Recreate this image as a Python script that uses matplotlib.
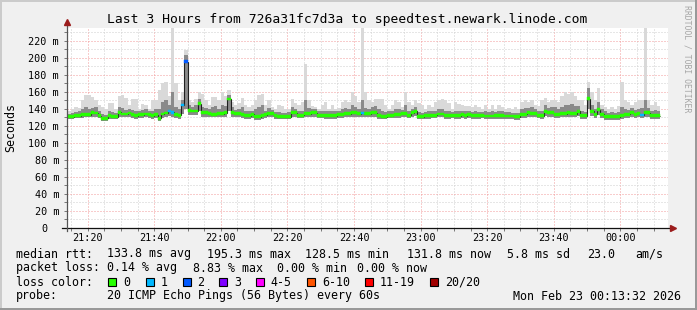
import numpy as np
import matplotlib
matplotlib.use("Agg")
import matplotlib.pyplot as plt
from matplotlib.ticker import MultipleLocator, FuncFormatter
from matplotlib.patches import Rectangle
from matplotlib.transforms import ScaledTranslation

# ----------------------------------------------------------------------------
# Data: one sample per minute, first one at 21:14 (minutes after midnight)
# ----------------------------------------------------------------------------

START_MIN = 21 * 60 + 14

MEDIAN = [
    131, 131, 132, 132, 133, 133, 133, 135.5, 135, 132,
    128.5, 129, 132, 131, 131, 136, 134, 134, 135, 133,
    132, 133, 133, 134, 133, 132, 133, 129, 134, 135,
    137.5, 136, 133, 132.5, 144.5, 195.3, 138, 137.5, 137.5, 146,
    135.5, 135.5, 134.5, 133.5, 133.5, 134.5, 134.5, 135.5, 151.5, 135.5,
    134.5, 134.5, 133.5, 132, 132, 133.5, 130.8, 131, 132.5, 133,
    134.5, 134.5, 132, 131, 131, 131, 131, 135.5, 135.5, 132.5,
    132.5, 134.5, 134.5, 135.5, 135.5, 132.5, 132.5, 132, 132, 132,
    132, 133.5, 133.5, 134.5, 134.5, 135.5, 135.5, 134.5, 135, 134.5,
    134.5, 135.5, 135.5, 132, 131, 131, 132.5, 132.5, 133.5, 133.5,
    134.5, 134.5, 132.5, 135.5, 137, 131, 131, 132, 132, 132.5,
    132.5, 134, 134, 132, 132, 132.5, 132, 132, 133.5, 132,
    133, 132, 132, 132, 132.5, 131.5, 131.5, 131.5, 132, 132,
    132, 131.5, 131.5, 131.5, 131, 131, 133.5, 133.5, 135.5, 134.5,
    134.5, 132.5, 132, 137, 135.5, 135.5, 133.5, 133.5, 134.5, 134.5,
    135.5, 134.5, 134.5, 137, 132, 132, 152, 137, 133.5, 139,
    133.5, 131, 131, 131, 131, 131, 132.5, 133.5, 133.5, 135.5,
    133.5, 134.5, 132.8, 135.5, 135.5, 132, 132, 131.8,
]

# smoke: slowest ping of the minute
SMOKE_HI = [
    138, 140, 142, 141, 150, 156, 156, 154, 150, 145,
    142, 140, 147, 147, 140, 155, 156, 153, 145, 151,
    151, 140, 146, 145, 140, 150, 150, 162, 170, 172,
    155, 235, 170, 150, 160, 209, 150, 148, 152, 160,
    158, 150, 145, 154, 154, 150, 160, 155, 162, 148,
    145, 147, 153, 145, 142, 145, 150, 156, 158, 145,
    150, 142, 140, 145, 143, 140, 140, 152, 147, 145,
    148, 193, 150, 143, 142, 140, 145, 148, 140, 145,
    140, 141, 148, 150, 148, 160, 155, 148, 235, 160,
    150, 148, 152, 152, 152, 145, 140, 145, 150, 148,
    142, 160, 148, 145, 150, 147, 145, 140, 145, 142,
    148, 150, 152, 150, 147, 140, 148, 146, 144, 143,
    143, 142, 145, 142, 140, 144, 140, 145, 140, 145,
    142, 140, 141, 140, 142, 140, 148, 150, 148, 150,
    145, 143, 150, 153, 148, 150, 150, 148, 155, 160,
    158, 160, 155, 150, 150, 145, 172, 160, 150, 164,
    145, 142, 140, 142, 140, 143, 172, 150, 148, 145,
    148, 150, 150, 235, 150, 145, 148, 143,
]

# smoke: upper edge of the dense part
SMOKE_Q3 = [
    134, 135, 136, 137, 140, 142, 140, 141, 142, 138,
    134, 133, 137, 136, 135, 142, 141, 139, 140, 139,
    137, 137, 139, 140, 138, 138, 140, 140, 148, 150,
    145, 160, 142, 140, 150, 203, 145, 142, 145, 152,
    142, 141, 140, 142, 143, 140, 145, 143, 156, 142,
    139, 140, 142, 138, 137, 138, 140, 142, 145, 138,
    141, 139, 136, 136, 135, 135, 136, 142, 140, 138,
    138, 150, 141, 140, 140, 137, 138, 138, 137, 137,
    137, 138, 140, 141, 140, 145, 142, 140, 150, 141,
    140, 142, 143, 140, 137, 136, 137, 138, 140, 140,
    139, 145, 138, 140, 142, 136, 135, 136, 137, 137,
    138, 140, 140, 138, 137, 136, 138, 137, 137, 137,
    137, 136, 137, 136, 136, 137, 136, 137, 136, 138,
    137, 136, 136, 135, 135, 135, 140, 141, 141, 142,
    140, 137, 138, 144, 141, 142, 142, 140, 142, 145,
    145, 146, 143, 143, 137, 136, 165, 145, 140, 148,
    140, 137, 135, 136, 135, 136, 142, 140, 139, 141,
    139, 140, 141, 150, 141, 137, 139, 138,
]

# smoke: fastest ping of the minute
SMOKE_LO = [
    128, 128, 129, 129, 129, 130, 130, 131, 131, 129,
    126, 126, 128, 128, 128, 131, 130, 130, 131, 129,
    128, 129, 129, 130, 129, 128, 129, 126, 129, 130,
    132, 131, 129, 128, 134, 140, 133, 133, 133, 137,
    131, 131, 130, 130, 130, 130, 130, 131, 138, 131,
    130, 130, 129, 128, 128, 129, 127, 127, 128, 129,
    130, 130, 128, 128, 128, 128, 128, 131, 131, 129,
    129, 130, 130, 131, 131, 129, 129, 128, 128, 128,
    128, 129, 129, 130, 130, 131, 131, 130, 130, 130,
    130, 131, 131, 128, 128, 128, 129, 129, 129, 129,
    130, 130, 129, 131, 132, 128, 128, 128, 128, 129,
    129, 130, 130, 128, 128, 129, 128, 128, 129, 128,
    129, 128, 128, 128, 129, 128, 128, 128, 128, 128,
    128, 128, 128, 128, 127, 127, 129, 129, 131, 130,
    130, 129, 128, 132, 131, 131, 129, 129, 130, 130,
    131, 130, 130, 132, 128, 128, 140, 132, 129, 133,
    129, 127, 127, 127, 127, 127, 128, 129, 129, 131,
    129, 130, 129, 131, 131, 128, 128, 128,
]

# minutes with lost pings (index into the series) and how many were lost
LOSS_AT = [30, 31, 34, 35, 88, 172]
LOSS_N = [1, 1, 1, 2, 1, 1]

LOSS_LABELS = ["0", "1", "2", "3", "4-5", "6-10", "11-19", "20/20"]
LOSS_UPPER = [0, 1, 2, 3, 5, 10, 19, 20]
LOSS_COLORS = ["#26ff00", "#00b8ff", "#0059ff", "#7e00ff",
               "#ff00ff", "#ff5500", "#ff0000", "#a10000"]

TITLE = "Last 3 Hours from 726a31fc7d3a to speedtest.newark.linode.com"
RTT_ROW = ["median rtt:", "133.8 ms avg", "195.3 ms max", "128.5 ms min",
           "131.8 ms now", "5.8 ms sd", "23.0", "am/s"]
LOSS_ROW = ["packet loss:", "0.14 % avg", "8.83 % max", "0.00 % min",
            "0.00 % now"]
PROBE_ROW = ["probe:", "20 ICMP Echo Pings (56 Bytes) every 60s",
             "Mon Feb 23 00:13:32 2026"]

# ----------------------------------------------------------------------------
# Layout (pixels of the 697x310 image)
# ----------------------------------------------------------------------------

W, H = 697, 310
MONO = "DejaVu Sans Mono"
BACK = "#f0f0f0"
ARROW = "#9b1c1c"
RTT_X = [16, 107, 207, 305, 407, 507, 587, 635]
LOSS_X = [16, 107, 193, 277, 357]
PROBE_X = [16, 107, 513]
BOX_X = [108.3, 145.7, 182.7, 219.3, 256, 307.3, 365, 430]
ROW_Y = [254, 268, 282, 296]


def fx(px):
    return px / W


def fy(py):
    return 1 - py / H


fig = plt.figure(figsize=(W / 100, H / 100), dpi=100, facecolor=BACK)
ax = fig.add_axes([fx(67), fy(228), 601 / W, 200 / H])
ax.set_facecolor("white")

x = START_MIN + np.arange(len(MEDIAN))
edges = np.append(x, x[-1] + 1)
med = np.array(MEDIAN, dtype=float)
hi = np.array(SMOKE_HI, dtype=float)
q3 = np.array(SMOKE_Q3, dtype=float)
lo = np.array(SMOKE_LO, dtype=float)
loss = np.zeros(len(MEDIAN), dtype=int)
loss[LOSS_AT] = LOSS_N

# smoke
ax.fill_between(edges, np.append(lo, lo[-1]), np.append(hi, hi[-1]),
                step="post", color="#d9d9d9", lw=0, zorder=2)
ax.fill_between(edges, np.append(lo, lo[-1]), np.append(q3, q3[-1]),
                step="post", color="#8a8a8a", lw=0, zorder=3)

# median line + loss-coloured blocks
ax.stairs(med, edges, baseline=None, color="#202020", lw=0.8, zorder=4)
SW = 1.6
bin_idx = np.searchsorted(LOSS_UPPER, loss)
for k, col in enumerate(LOSS_COLORS):
    m = bin_idx == k
    if m.any():
        ax.bar(x[m], 2 * SW, bottom=med[m] - SW, width=1, align="edge",
               color=col, edgecolor=col, lw=0.3, zorder=5)

# axes, ticks, grid
ax.set_xlim(START_MIN - 0.2, START_MIN + 180.3)
ax.set_ylim(0, 235)
ax.xaxis.set_major_locator(MultipleLocator(20))
ax.xaxis.set_minor_locator(MultipleLocator(5))
ax.yaxis.set_major_locator(MultipleLocator(20))
ax.yaxis.set_minor_locator(MultipleLocator(10))
ax.xaxis.set_major_formatter(
    FuncFormatter(lambda v, _: f"{int(v) // 60 % 24:02d}:{int(v) % 60:02d}"))
ax.yaxis.set_major_formatter(
    FuncFormatter(lambda v, _: "0" if v == 0 else f"{int(round(v))} m"))
ax.set_axisbelow(True)
ax.grid(which="minor", color="#cfcfcf", ls=(0, (1, 2)), lw=0.72)
ax.grid(which="major", color="#f29a9a", ls=(0, (1, 2)), lw=0.72)
ax.tick_params(which="both", length=2, width=0.7, color="#777777",
               labelsize=7.3, labelfontfamily=MONO)
ax.tick_params(axis="y", pad=3.7)
ax.tick_params(axis="x", pad=1.8)
for s in ax.spines.values():
    s.set_visible(False)

# axis lines with arrows
ax.plot([-5 / 601, 1.007], [0, 0], transform=ax.transAxes, color="#111111",
        lw=0.9, clip_on=False, zorder=6)
ax.plot([0, 0], [-3 / 200, 1.025], transform=ax.transAxes, color="#555555",
        lw=0.9, clip_on=False, zorder=6)
ax.plot([1.008], [0], transform=ax.transAxes, marker=">", ms=4.5,
        color=ARROW, clip_on=False, zorder=7)
ax.plot([0], [1.03], transform=ax.transAxes, marker="^", ms=4.5,
        color=ARROW, clip_on=False, zorder=7)

fig.canvas.draw()
for lbl in ax.get_yticklabels():
    if lbl.get_text() == "0":
        lbl.set_transform(lbl.get_transform()
                          + ScaledTranslation(-12 / 100, 0, fig.dpi_scale_trans))

# texts
fig.text(fx(347.5), fy(19), TITLE, ha="center", va="center",
         fontsize=9.4, family=MONO)
fig.text(fx(11), fy(127), "Seconds", rotation=90, ha="center", va="center",
         fontsize=8.4, family=MONO)
fig.text(fx(686.5), fy(59), "RRDTOOL / TOBI OETIKER", rotation=-90,
         ha="center", va="center", fontsize=5.9, family=MONO, color="#a6a6a6")

for row, xs, py in [(RTT_ROW, RTT_X, ROW_Y[0]), (LOSS_ROW, LOSS_X, ROW_Y[1]),
                    (PROBE_ROW, PROBE_X, ROW_Y[3])]:
    for txt, px in zip(row, xs):
        fig.text(fx(px), fy(py), txt, ha="left", va="center",
                 fontsize=8.4, family=MONO)

fig.text(fx(16), fy(ROW_Y[2]), "loss color:", ha="left", va="center",
         fontsize=8.4, family=MONO)
for lab, col, bx in zip(LOSS_LABELS, LOSS_COLORS, BOX_X):
    fig.add_artist(Rectangle((fx(bx), fy(ROW_Y[2] + 4)), 8 / W, 8 / H,
                             transform=fig.transFigure, facecolor=col,
                             edgecolor="black", lw=0.8))
    fig.text(fx(bx + 14.7), fy(ROW_Y[2]), lab, ha="left", va="center",
             fontsize=8.4, family=MONO)

# bevelled frame
fig.add_artist(Rectangle((0, 1 - 2 / H), 1, 2 / H, transform=fig.transFigure,
                         facecolor="#cbcbcb", lw=0))
fig.add_artist(Rectangle((0, 0), 2 / W, 1, transform=fig.transFigure,
                         facecolor="#cbcbcb", lw=0))
fig.add_artist(Rectangle((0, 0), 1, 2 / H, transform=fig.transFigure,
                         facecolor="#999999", lw=0))
fig.add_artist(Rectangle((1 - 2 / W, 0), 2 / W, 1, transform=fig.transFigure,
                         facecolor="#999999", lw=0))

fig.savefig("out.png", dpi=100, facecolor=BACK)
